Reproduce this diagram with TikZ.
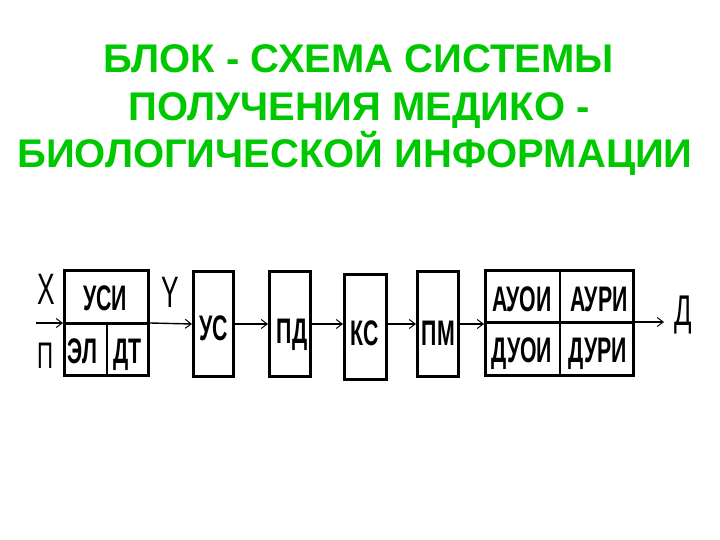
\documentclass[tikz,border=0pt]{standalone}
\usepackage{fontspec}
\setmainfont{Liberation Sans}
\newfontfamily\blockfont[FakeStretch=0.6]{Liberation Sans}
\newfontfamily\signalfont[FakeStretch=0.6]{Liberation Sans}
\usepackage{xcolor}
\usepackage{tikz}
\usetikzlibrary{arrows.meta,positioning}
\definecolor{titlegreen}{RGB}{0,200,0}

\begin{document}
\begin{tikzpicture}[x=1pt,y=-1pt,
  blockbox/.style={draw,line width=3pt,minimum height=105pt,inner sep=0pt},
  blocktext/.style={font=\blockfont\bfseries\fontsize{35.5}{36}\selectfont,anchor=base,inner sep=0pt},
  sigtext/.style={font=\signalfont\fontsize{#1}{#1}\selectfont,anchor=base,inner sep=0pt},
  titletext/.style={font=\bfseries\fontsize{40}{42}\selectfont,text=titlegreen,anchor=base,inner sep=0pt},
  signal/.style={-{Straight Barb[length=6pt,width=9pt,line width=1pt]},line width=1.4pt}]
  \useasboundingbox (0,0) rectangle (720,540);
  % title
  \node[titletext] (title1) at (359,73) {БЛОК - СХЕМА СИСТЕМЫ};
  \node[titletext] (title2) at (359,121) {ПОЛУЧЕНИЯ МЕДИКО -};
  \node[titletext] (title3) at (355,168) {БИОЛОГИЧЕСКОЙ ИНФОРМАЦИИ};
  % sensor block
  \node[blockbox,minimum width=84pt] (usi) at (106.5,323) {};
  \coordinate (usimid) at (107,323);
  \draw[line width=3pt] (usi.west) -- (usi.east);
  \draw[line width=2pt] (usimid) -- (usimid |- usi.south);
  \node[blocktext] (usitxt) at (105,310) {УСИ};
  \node[blocktext] (eltxt) at (82.5,363) {ЭЛ};
  \node[blocktext] (dttxt) at (127.5,363) {ДТ};
  % chain of blocks
  \node[blockbox,minimum width=40pt] (us) at (213.5,324) {};
  \node[blocktext] (ustxt) at (213.5,340) {УС};
  \node[blockbox,minimum width=41pt] (pd) at (290,324) {};
  \node[blocktext] (pdtxt) at (292,343) {ПД};
  \node[blockbox,minimum width=42pt] (ks) at (365.5,326.5) {};
  \node[blocktext] (kstxt) at (365,345) {КС};
  \node[blockbox,minimum width=41pt] (pm) at (438,324) {};
  \node[blocktext] (pmtxt) at (438.5,345) {ПМ};
  % output block
  \node[blockbox,minimum width=148pt] (out) at (559.5,323) {};
  \coordinate (outmid) at (560,322);
  \draw[line width=3pt] (out.west |- outmid) -- (out.east |- outmid);
  \draw[line width=2pt] (outmid |- out.north) -- (outmid |- out.south);
  \node[blocktext] (auoi) at (522,311) {АУОИ};
  \node[blocktext] (auri) at (599,311) {АУРИ};
  \node[blocktext] (duoi) at (522,362) {ДУОИ};
  \node[blocktext] (duri) at (598,362) {ДУРИ};
  % signals
  \coordinate (in) at (36,323);
  \coordinate (end) at (664,322);
  \node[sigtext=44] (xsig) at (46.5,304) {X};
  \node[sigtext=37] (psig) at (45,368) {П};
  \node[sigtext=44] (ysig) at (170,307) {Y};
  \node[sigtext=43] (dsig) at (683.5,325) {Д};
  \draw[signal] (in) -- (usi.west);
  \draw[signal] (usi.east) -- (us.west);
  \draw[signal] (us.east) -- (pd.west);
  \draw[signal] (pd.east) -- (pd.east -| ks.west);
  \draw[signal] (pd.east -| ks.east) -- (pd.east -| pm.west);
  \draw[signal] (pm.east) -- (pm.east -| out.west);
  \draw[signal] (out.east |- outmid) -- (end);
\end{tikzpicture}
\end{document}
